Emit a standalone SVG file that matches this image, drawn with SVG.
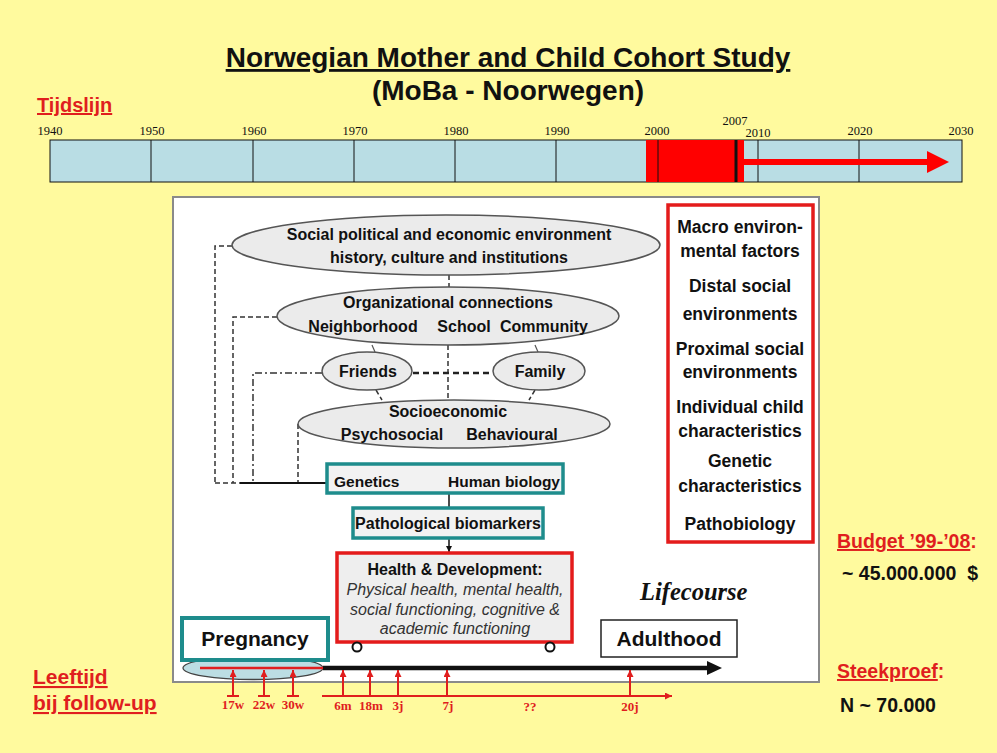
<svg xmlns="http://www.w3.org/2000/svg" width="997" height="753" viewBox="0 0 997 753">
<defs>
<style>
.sans{font-family:"Liberation Sans",Arial,sans-serif}
.serif{font-family:"Liberation Serif","Times New Roman",serif}
.b{font-weight:bold}
.yr{font-family:"Liberation Serif","Times New Roman",serif;font-size:12.5px;text-anchor:middle;fill:#111}
.lbl{font-family:"Liberation Sans",Arial,sans-serif;font-weight:bold;font-size:16px;fill:#111;text-anchor:middle}
.lbs{font-family:"Liberation Sans",Arial,sans-serif;font-weight:bold;font-size:15.5px;fill:#111}
.rb{font-family:"Liberation Sans",Arial,sans-serif;font-weight:bold;font-size:17.5px;fill:#111;text-anchor:middle}
.it{font-family:"Liberation Sans",Arial,sans-serif;font-style:italic;font-size:16px;fill:#333;text-anchor:middle}
.redh{font-family:"Liberation Sans",Arial,sans-serif;font-weight:bold;fill:#E01E1E;text-decoration:underline}
.age{font-family:"Liberation Serif","Times New Roman",serif;font-weight:bold;font-size:13px;fill:#E01E1E;text-anchor:middle}
.ell{fill:#EBEBEB;stroke:#555;stroke-width:1.5}
.dash{fill:none;stroke:#333;stroke-width:1.5;stroke-dasharray:5 3}
.dashdot{fill:none;stroke:#333;stroke-width:1.5;stroke-dasharray:7 3 2 3}
.thin{fill:none;stroke:#555;stroke-width:1.2}
.teal{fill:#F2F2F2;stroke:#1E8C8C;stroke-width:3.5}
.redbox{stroke:#E41B1B;stroke-width:3.5}
.tl{stroke:#111;stroke-width:1}
.up{stroke:#E01E1E;stroke-width:2;fill:none}
</style>
<marker id="ahb" viewBox="0 0 10 10" refX="10" refY="5" markerWidth="6" markerHeight="6" markerUnits="userSpaceOnUse" orient="auto"><path d="M0,0 L10,5 L0,10 z" fill="#111"/></marker>
<marker id="ahr" viewBox="0 0 10 10" refX="10" refY="5" markerWidth="7" markerHeight="7" markerUnits="userSpaceOnUse" orient="auto"><path d="M0,0 L10,5 L0,10 z" fill="#E01E1E"/></marker>
</defs>

<rect x="0" y="0" width="997" height="753" fill="#FFFA9E"/>

<!-- Title -->
<g id="title">
<text class="sans b" x="508" y="67" font-size="28" text-anchor="middle" fill="#111" text-decoration="underline">Norwegian Mother and Child Cohort Study</text>
<text class="sans b" x="508" y="100" font-size="28" text-anchor="middle" fill="#111">(MoBa - Noorwegen)</text>
</g>

<!-- Timeline -->
<g id="timeline">
<text class="redh" x="37" y="112" font-size="20">Tijdslijn</text>
<rect x="50" y="140" width="912" height="42" fill="#B9DDE4" stroke="#111" stroke-width="1"/>
<rect x="646" y="140" width="98" height="42" fill="#FF0000"/>
<line class="tl" x1="151" y1="140" x2="151" y2="182"/>
<line class="tl" x1="253" y1="140" x2="253" y2="182"/>
<line class="tl" x1="354" y1="140" x2="354" y2="182"/>
<line class="tl" x1="455" y1="140" x2="455" y2="182"/>
<line class="tl" x1="556" y1="140" x2="556" y2="182"/>
<line class="tl" x1="658" y1="140" x2="658" y2="182"/>
<line class="tl" x1="758" y1="140" x2="758" y2="182"/>
<line class="tl" x1="859" y1="140" x2="859" y2="182"/>
<line x1="736" y1="140" x2="736" y2="182" stroke="#111" stroke-width="3"/>
<line x1="744" y1="162" x2="930" y2="162" stroke="#FF0000" stroke-width="6"/>
<polygon points="927,151 949,162 927,173" fill="#FF0000"/>
<text class="yr" x="50" y="135">1940</text>
<text class="yr" x="152" y="135">1950</text>
<text class="yr" x="254" y="135">1960</text>
<text class="yr" x="355" y="135">1970</text>
<text class="yr" x="456" y="135">1980</text>
<text class="yr" x="557" y="135">1990</text>
<text class="yr" x="657" y="135">2000</text>
<text class="yr" x="735" y="125">2007</text>
<text class="yr" x="758" y="137">2010</text>
<text class="yr" x="860" y="135">2020</text>
<text class="yr" x="961" y="135">2030</text>
</g>

<!-- Panel -->
<rect id="panel" x="173" y="197" width="646" height="485" fill="#FFFFFF" stroke="#8A8A8A" stroke-width="2"/>

<!-- Connectors -->
<g id="connectors">
<polyline class="dash" points="232,246 215,246 215,483"/>
<polyline class="dash" points="277,317 233,317 233,483"/>
<polyline class="dashdot" points="322,373 253,373 253,483"/>
<line class="dash" x1="298" y1="424" x2="298" y2="483"/>
<line class="dash" x1="215" y1="483" x2="240" y2="483"/>
<line x1="240" y1="483" x2="327" y2="483" stroke="#111" stroke-width="2.2"/>
<line class="dash" x1="449" y1="275" x2="449" y2="287"/>
<line class="dash" x1="448" y1="345" x2="448" y2="400"/>
<line x1="413" y1="373" x2="493" y2="373" stroke="#222" stroke-width="2.5" stroke-dasharray="6 4"/>
<line class="thin" x1="372" y1="345" x2="375" y2="352"/>
<line class="thin" x1="535" y1="345" x2="538" y2="352"/>
<line class="dash" x1="376" y1="390" x2="382" y2="400"/>
<line class="dash" x1="535" y1="390" x2="529" y2="400"/>
<line x1="449" y1="493" x2="449" y2="508" stroke="#111" stroke-width="1.5"/>
<line x1="449" y1="538" x2="449" y2="552" stroke="#111" stroke-width="1.5" marker-end="url(#ahb)"/>
</g>

<!-- Nodes -->
<g id="n-social">
<ellipse class="ell" cx="446" cy="245" rx="214" ry="30"/>
<text class="lbl" x="449" y="240">Social political and economic environment</text>
<text class="lbl" x="449" y="263">history, culture and institutions</text>
</g>
<g id="n-org">
<ellipse class="ell" cx="448" cy="316" rx="171" ry="29"/>
<text class="lbl" x="448" y="308">Organizational connections</text>
<text class="lbl" x="363" y="332">Neighborhood</text>
<text class="lbl" x="464" y="332">School</text>
<text class="lbl" x="544" y="332">Community</text>
</g>
<g id="n-friends">
<ellipse class="ell" cx="367" cy="371" rx="45" ry="19"/>
<text class="lbl" x="368" y="377">Friends</text>
</g>
<g id="n-family">
<ellipse class="ell" cx="539" cy="371" rx="46" ry="19"/>
<text class="lbl" x="540" y="377">Family</text>
</g>
<g id="n-socio">
<ellipse class="ell" cx="454" cy="424" rx="156" ry="24"/>
<text class="lbl" x="448" y="417">Socioeconomic</text>
<text class="lbl" x="392" y="440">Psychosocial</text>
<text class="lbl" x="512" y="440">Behavioural</text>
</g>
<g id="n-genetics">
<rect class="teal" x="327" y="464" width="236" height="29"/>
<text class="lbs" x="334" y="487" style="text-anchor:start">Genetics</text>
<text class="lbs" x="560" y="487" style="text-anchor:end">Human biology</text>
</g>
<g id="n-patho">
<rect class="teal" x="353" y="508" width="190" height="30"/>
<text class="lbl" x="448" y="529">Pathological biomarkers</text>
</g>
<g id="n-health">
<rect class="redbox" x="337" y="553" width="235" height="89" fill="#EEEEEE"/>
<text class="lbl" x="455" y="575">Health &amp; Development:</text>
<text class="it" x="455" y="595">Physical health, mental health,</text>
<text class="it" x="455" y="615">social functioning, cognitive &amp;</text>
<text class="it" x="455" y="634">academic functioning</text>
<circle cx="357" cy="647" r="4.5" fill="#fff" stroke="#111" stroke-width="2"/>
<circle cx="550" cy="647" r="4.5" fill="#fff" stroke="#111" stroke-width="2"/>
</g>
<g id="n-levels">
<rect class="redbox" x="668" y="205" width="145" height="337" fill="#FFFFFF"/>
<text class="rb" x="740" y="233">Macro environ-</text>
<text class="rb" x="740" y="257">mental factors</text>
<text class="rb" x="740" y="292">Distal social</text>
<text class="rb" x="740" y="320">environments</text>
<text class="rb" x="740" y="355">Proximal social</text>
<text class="rb" x="740" y="378">environments</text>
<text class="rb" x="740" y="413">Individual child</text>
<text class="rb" x="740" y="437">characteristics</text>
<text class="rb" x="740" y="467">Genetic</text>
<text class="rb" x="740" y="492">characteristics</text>
<text class="rb" x="740" y="530">Pathobiology</text>
</g>
<g id="n-lifecourse">
<text class="serif b" x="640" y="600" font-size="24.5" font-style="italic" fill="#111">Lifecourse</text>
</g>

<!-- Life course axis -->
<g id="n-pregnancy">
<ellipse cx="253" cy="668" rx="70" ry="11.5" fill="#BCDDE3" stroke="#444" stroke-width="1.3"/>
<rect x="182" y="618" width="146" height="42" fill="#FFFFFF" stroke="#1E8C8C" stroke-width="4"/>
<text class="sans b" x="255" y="646" font-size="21" text-anchor="middle" fill="#111">Pregnancy</text>
</g>
<g id="n-adulthood">
<rect x="601" y="620" width="136" height="37" fill="#FFFFFF" stroke="#222" stroke-width="1.5"/>
<text class="sans b" x="669" y="646" font-size="21" text-anchor="middle" fill="#111">Adulthood</text>
</g>
<g id="axis">
<line x1="200" y1="668" x2="323" y2="668" stroke="#E01E1E" stroke-width="2.5"/>
<line x1="323" y1="668" x2="710" y2="668" stroke="#111" stroke-width="4.5"/>
<polygon points="707,661 722,668 707,675" fill="#111"/>
</g>

<!-- Follow-up markers -->
<g id="followup">
<text class="redh" x="33" y="684" font-size="21">Leeftijd</text>
<text class="redh" x="33" y="710" font-size="21">bij follow-up</text>
<line class="up" x1="233" y1="696" x2="233" y2="670" marker-end="url(#ahr)"/>
<line class="up" x1="227" y1="696" x2="239" y2="696"/>
<line class="up" x1="264" y1="696" x2="264" y2="670" marker-end="url(#ahr)"/>
<line class="up" x1="258" y1="696" x2="270" y2="696"/>
<line class="up" x1="293" y1="696" x2="293" y2="670" marker-end="url(#ahr)"/>
<line class="up" x1="287" y1="696" x2="299" y2="696"/>
<line class="up" x1="322" y1="696" x2="672" y2="696" marker-end="url(#ahr)"/>
<line class="up" x1="343" y1="696" x2="343" y2="670" marker-end="url(#ahr)"/>
<line class="up" x1="370" y1="696" x2="370" y2="670" marker-end="url(#ahr)"/>
<line class="up" x1="398" y1="696" x2="398" y2="670" marker-end="url(#ahr)"/>
<line class="up" x1="447" y1="696" x2="447" y2="670" marker-end="url(#ahr)"/>
<line class="up" x1="630" y1="696" x2="630" y2="670" marker-end="url(#ahr)"/>
<text class="age" x="233" y="709">17w</text>
<text class="age" x="264" y="709">22w</text>
<text class="age" x="293" y="709">30w</text>
<text class="age" x="343" y="710">6m</text>
<text class="age" x="371" y="710">18m</text>
<text class="age" x="398" y="710">3j</text>
<text class="age" x="448" y="710">7j</text>
<text class="age" x="530" y="711">??</text>
<text class="age" x="630" y="711">20j</text>
</g>

<!-- Side info -->
<g id="budget">
<text class="sans b" x="837" y="548" font-size="19.5" fill="#E01E1E"><tspan text-decoration="underline">Budget ’99-’08</tspan>:</text>
<text class="sans b" x="842" y="580" font-size="19.5" fill="#111" xml:space="preserve">~ 45.000.000  $</text>
</g>
<g id="sample">
<text class="sans b" x="837" y="678" font-size="19.5" fill="#E01E1E"><tspan text-decoration="underline">Steekproef</tspan>:</text>
<text class="sans b" x="840" y="712" font-size="19.5" fill="#111">N ~ 70.000</text>
</g>
</svg>
